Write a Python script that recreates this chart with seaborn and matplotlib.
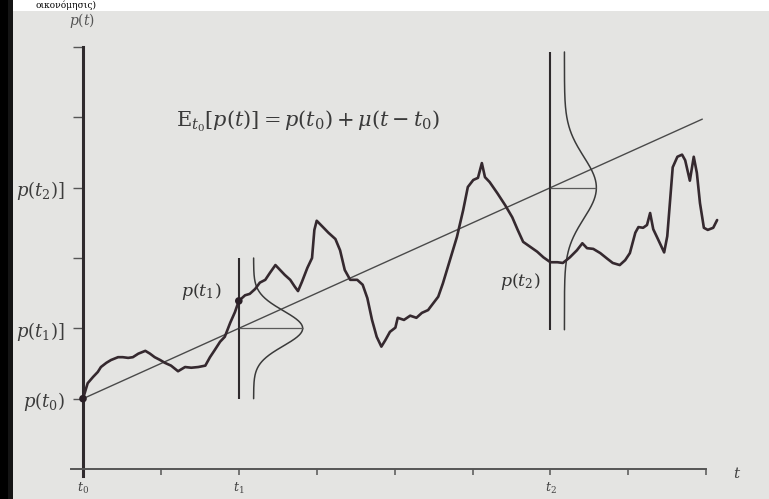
import numpy as np
import pandas as pd
import matplotlib
matplotlib.use("Agg")
import matplotlib.pyplot as plt
from matplotlib.patches import Rectangle
import seaborn as sns

# ---- price path p(t) ----
t_path = [0.00, 0.06, 0.13, 0.19, 0.23, 0.30, 0.36, 0.45, 0.51, 0.58, 0.64, 0.71,
          0.80, 0.86, 0.92, 0.99, 1.05, 1.13, 1.22, 1.31, 1.39, 1.48, 1.57, 1.63,
          1.69, 1.76, 1.82, 1.89, 1.95, 2.00, 2.08, 2.14, 2.21, 2.27, 2.34, 2.40,
          2.47, 2.53, 2.59, 2.66, 2.72, 2.76, 2.81, 2.88, 2.94, 2.97, 3.00, 3.08,
          3.15, 3.24, 3.30, 3.36, 3.43, 3.52, 3.59, 3.65, 3.71, 3.77, 3.83, 3.88,
          3.94, 4.01, 4.04, 4.12, 4.20, 4.28, 4.35, 4.43, 4.45, 4.56, 4.62, 4.71,
          4.80, 4.88, 4.94, 5.01, 5.07, 5.12, 5.16, 5.22, 5.32, 5.42, 5.51, 5.58,
          5.65, 5.74, 5.83, 5.91, 6.00, 6.09, 6.16, 6.25, 6.34, 6.41, 6.47, 6.55,
          6.64, 6.73, 6.80, 6.89, 6.96, 7.02, 7.09, 7.13, 7.19, 7.24, 7.28, 7.32,
          7.38, 7.46, 7.50, 7.54, 7.57, 7.63, 7.69, 7.73, 7.79, 7.84, 7.88, 7.92,
          7.97, 8.02, 8.09, 8.14]
p_path = [1.00, 1.22, 1.31, 1.38, 1.45, 1.51, 1.55, 1.59, 1.59, 1.58, 1.59, 1.64,
          1.68, 1.64, 1.59, 1.55, 1.51, 1.47, 1.39, 1.45, 1.44, 1.45, 1.47, 1.59,
          1.69, 1.81, 1.88, 2.08, 2.23, 2.39, 2.47, 2.49, 2.56, 2.65, 2.69, 2.79,
          2.90, 2.83, 2.76, 2.69, 2.59, 2.53, 2.66, 2.86, 3.00, 3.40, 3.53, 3.44,
          3.36, 3.27, 3.11, 2.83, 2.69, 2.69, 2.62, 2.43, 2.12, 1.88, 1.74, 1.83,
          1.95, 2.01, 2.15, 2.12, 2.18, 2.15, 2.22, 2.26, 2.29, 2.45, 2.64, 2.97,
          3.30, 3.68, 4.01, 4.11, 4.14, 4.35, 4.15, 4.08, 3.92, 3.75, 3.58, 3.40,
          3.23, 3.16, 3.09, 3.01, 2.94, 2.94, 2.93, 3.01, 3.11, 3.21, 3.14, 3.13,
          3.07, 2.99, 2.93, 2.90, 2.97, 3.07, 3.36, 3.44, 3.43, 3.47, 3.64, 3.41,
          3.27, 3.08, 3.31, 3.87, 4.29, 4.44, 4.47, 4.39, 4.10, 4.44, 4.21, 3.78,
          3.43, 3.40, 3.43, 3.54]

# ---- expected path E_t0[p(t)] = p(t0) + mu (t - t0) ----
t0, t1, t2 = 0.0, 2.0, 6.0
p_t0 = 1.0
mu = 0.5
t_trend_end = 7.95

# ---- conditional densities at t1 and t2 ----
dens_time = [t1, t2]
dens_mean = [2.0, 4.0]
dens_sd = [0.25, 0.44]
dens_offset = [0.19, 0.18]
dens_width = [0.63, 0.41]
dens_low = [1.0, 1.98]
dens_high = [3.0, 5.93]

# ---- axes ticks ----
t_ticks = [0, 1, 2, 3, 4, 5, 6, 7, 8]
t_tick_labels = ["$t_0$", "", "$t_1$", "", "", "", "$t_2$", "", ""]
p_ticks = [1, 2, 3, 4, 5, 6]
p_tick_labels = ["$p(t_0)$", "$p(t_1)]$", "", "$p(t_2)]$", "", ""]

paper = "#e4e4e2"
ink = "#35292f"
grey = "#4a4a4a"

sns.set_theme(style="white")
plt.rcParams["mathtext.fontset"] = "dejavuserif"
plt.rcParams["font.family"] = ["DejaVu Serif"]

fig = plt.figure(figsize=(7.69, 4.99), dpi=100, facecolor=paper)
ax = fig.add_axes([0, 0, 1, 1])
ax.set_facecolor(paper)
ax.set_xlim(-1.0655, 8.806)
ax.set_ylim(-0.4266, 6.669)

# trend line
trend = pd.DataFrame({"t": [t0, t_trend_end],
                      "p": [p_t0, p_t0 + mu * (t_trend_end - t0)]})
sns.lineplot(data=trend, x="t", y="p", ax=ax, color=grey, lw=1.0,
             estimator=None, sort=False, zorder=2)

# conditional density curves drawn sideways at t1 and t2
for tk, m, sd, off, w, lo, hi in zip(dens_time, dens_mean, dens_sd, dens_offset,
                                     dens_width, dens_low, dens_high):
    pp = np.linspace(lo, hi, 300)
    curve = pd.DataFrame({"t": tk + off + w * np.exp(-0.5 * ((pp - m) / sd) ** 2),
                          "p": pp})
    sns.lineplot(data=curve, x="t", y="p", ax=ax, color="#3a3a3a", lw=1.1,
                 estimator=None, sort=False, zorder=3)
    ax.vlines(tk, lo, hi, color="#2e2a2c", lw=1.5, zorder=3)
    ax.hlines(m, tk, tk + off + w, color="#5a5a5a", lw=0.9, zorder=3)

# price path
path = pd.DataFrame({"t": t_path, "p": p_path})
sns.lineplot(data=path, x="t", y="p", ax=ax, color=ink, lw=1.9,
             estimator=None, sort=False, zorder=4)

# observed points p(t0) and p(t1)
marks = path[path["t"].isin([t0, t1])]
sns.scatterplot(data=marks, x="t", y="p", ax=ax, color="#2a1f26", s=30,
                edgecolor="none", zorder=5)

# axes
for side in ("top", "right"):
    ax.spines[side].set_visible(False)
ax.spines["left"].set_position(("data", 0))
ax.spines["left"].set_bounds(-0.1, 6.0)
ax.spines["left"].set_linewidth(2.2)
ax.spines["left"].set_color("#2f2a2d")
ax.spines["bottom"].set_position(("data", 0))
ax.spines["bottom"].set_bounds(-0.15, 8.0)
ax.spines["bottom"].set_linewidth(1.4)
ax.spines["bottom"].set_color("#555555")

ax.set_xticks(t_ticks)
ax.set_xticklabels(t_tick_labels, fontsize=9, color="#444444")
ax.set_yticks(p_ticks)
ax.set_yticklabels(p_tick_labels, fontsize=13, color="#3c3c3c")
ax.tick_params(axis="x", direction="out", length=4.5, width=1.1, color="#555555",
               pad=4, bottom=True)
ax.tick_params(axis="y", direction="out", length=7, width=1.0, color="#555555",
               pad=6, left=True)
ax.set_xlabel("")
ax.set_ylabel("")

# annotations
ax.text(-0.013, 6.384, "$p(t)$", fontsize=10, color="#555555",
        ha="center", va="center")
ax.text(8.395, -0.057, "$t$", fontsize=11, color="#444444",
        ha="center", va="center")
ax.text(2.888, 4.948, r"$\mathrm{E}_{t_0}[p(t)] = p(t_0) + \mu(t - t_0)$",
        fontsize=15, color="#3a3a3a", ha="center", va="center")
ax.text(1.515, 2.517, "$p(t_1)$", fontsize=12.5, color="#333333",
        ha="center", va="center")
ax.text(5.61, 2.67, "$p(t_2)$", fontsize=12.5, color="#333333",
        ha="center", va="center")

# page edge: white strip with the line above, dark margin at left
W, H = 769, 499
fig.add_artist(Rectangle((0, 1 - 11 / H), 1, 11 / H, transform=fig.transFigure,
                         facecolor="white", edgecolor="none", zorder=10))
fig.text(35 / W, 1 - 5.5 / H, "οικονόμησις)", fontsize=6.5, color="black",
         ha="left", va="center", family="DejaVu Serif", zorder=11)
fig.add_artist(Rectangle((0, 0), 8 / W, 1, transform=fig.transFigure,
                         facecolor="black", edgecolor="none", zorder=12))
fig.add_artist(Rectangle((8 / W, 0), 5 / W, 1, transform=fig.transFigure,
                         facecolor="#141414", edgecolor="none", zorder=12))

fig.savefig("out.png", dpi=100, facecolor=paper)
